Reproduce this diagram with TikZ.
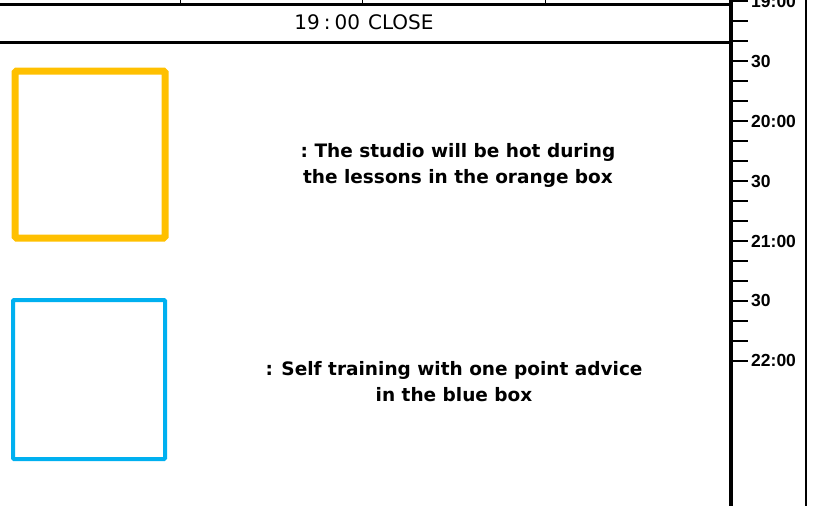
\documentclass[tikz,border=0pt]{standalone}
\usepackage{fontspec}
\setmainfont{Liberation Sans}
\newfontfamily\widefont{DejaVu Sans}
\definecolor{hotorange}{HTML}{FFC000}
\definecolor{selfblue}{HTML}{00B0F0}
\begin{document}
\begin{tikzpicture}[x=1pt,y=-1pt,
  rule/.style={line width=3pt,black},
  thinrule/.style={line width=1pt,black},
  tickmark/.style={line width=2pt,black},
  ticklabel/.style={anchor=west,inner sep=0pt,font=\fontsize{17.5}{18}\selectfont\bfseries},
  legendtext/.style={align=center,inner sep=0pt,font=\widefont\fontsize{18.5}{26}\selectfont\bfseries},
  hotbox/.style={draw=hotorange,line width=7pt,rounded corners=1.5pt,minimum width=150pt,minimum height=167pt,inner sep=0pt},
  selfbox/.style={draw=selfblue,line width=4pt,rounded corners=1pt,minimum width=152pt,minimum height=159pt,inner sep=0pt}]
\useasboundingbox (0,0) rectangle (818,506);
% header rules
\draw[rule] (0,4) -- (731,4);
\draw[rule] (0,42) -- (731,42);
\foreach \x in {180,362,545} \draw[thinrule] (\x,0) -- (\x,4);
\node[font=\widefont\fontsize{20}{22}\selectfont] (close) at (364,22) {19\hspace{4pt}:\hspace{4pt}00\hspace{8pt}CLOSE};
% time axis
\draw[line width=3.5pt] (731,0) -- (731,506);
\draw[line width=2pt] (806,0) -- (806,506);
\foreach \k in {0,...,18} \draw[tickmark] (731,{1+20*\k}) -- (748,{1+20*\k});
\node[ticklabel] (t1900) at (751,1) {19:00};
\node[ticklabel] (t1930) at (751,61) {30};
\node[ticklabel] (t2000) at (751,121) {20:00};
\node[ticklabel] (t2030) at (751,181) {30};
\node[ticklabel] (t2100) at (751,241) {21:00};
\node[ticklabel] (t2130) at (751,300) {30};
\node[ticklabel] (t2200) at (751,360) {22:00};
% legend boxes
\node[hotbox] (orange) at (90,154.5) {};
\node[selfbox] (blue) at (89,379.5) {};
\node[legendtext] (hottext) at (458,165) {:\ The studio will be hot during\\the lessons in the orange box};
\node[legendtext] (selftext) at (454,382) {: Self training with one point advice\\in the blue box};
\end{tikzpicture}
\end{document}
